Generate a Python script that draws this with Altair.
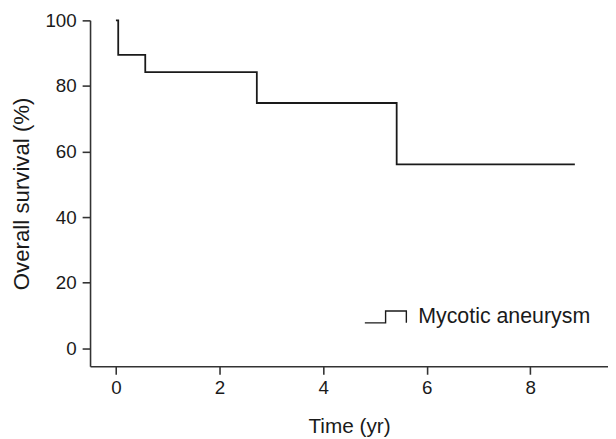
import altair as alt
import pandas as pd

# Kaplan-Meier curve
time_yr = [0.0, 0.044, 0.566, 2.72, 5.42, 8.86]
survival = [100.0, 89.5, 84.2, 74.8, 56.1, 56.1]
group = ["Mycotic aneurysm"] * len(time_yr)

x_ticks = [0, 2, 4, 6, 8]
y_ticks = [0, 20, 40, 60, 80, 100]

df = pd.DataFrame({"time": time_yr, "surv": survival, "group": group})

FONT = "Liberation Sans"

chart = (
    alt.Chart(df)
    .mark_line(interpolate="step-after", strokeWidth=1.8)
    .encode(
        x=alt.X(
            "time:Q",
            scale=alt.Scale(domain=[-0.5, 9.5], nice=False, zero=False),
            axis=alt.Axis(
                title="Time (yr)",
                values=x_ticks,
                grid=False,
                tickSize=8,
                labelPadding=4,
                titlePadding=19,
                titleFontSize=21,
            ),
        ),
        y=alt.Y(
            "surv:Q",
            scale=alt.Scale(domain=[-5.5, 100], nice=False, zero=False),
            axis=alt.Axis(
                title="Overall survival (%)",
                values=y_ticks,
                grid=False,
                tickSize=8,
                labelPadding=6,
                titlePadding=12,
                titleFontSize=22.5,
            ),
        ),
        color=alt.Color(
            "group:N",
            scale=alt.Scale(range=["#1a1a1a"]),
            legend=alt.Legend(
                title=None,
                orient="none",
                legendX=277,
                legendY=278,
                padding=0,
                symbolType="M-1,0.286H0V-0.286H1V0.286",
                symbolSize=1764,
                symbolFillColor="transparent",
                symbolStrokeColor="#1a1a1a",
                symbolStrokeWidth=1.4,
                labelFont=FONT,
                labelFontSize=21.6,
                labelColor="#1a1a1a",
                labelOffset=11,
                labelLimit=400,
            ),
        ),
    )
    .properties(
        width=524,
        height=350,
        autosize=alt.AutoSizeParams(type="none"),
        padding={"left": 83, "top": 10, "right": 0, "bottom": 71},
    )
    .configure_view(stroke=None)
    .configure_axis(
        labelFont=FONT,
        titleFont=FONT,
        labelFontSize=19,
        titleFontWeight="normal",
        labelColor="#1a1a1a",
        titleColor="#1a1a1a",
        domainColor="#333333",
        tickColor="#333333",
        domainWidth=1.6,
        tickWidth=1.6,
    )
)

chart.save("out.html", embed_options={"renderer": "svg", "actions": False})
